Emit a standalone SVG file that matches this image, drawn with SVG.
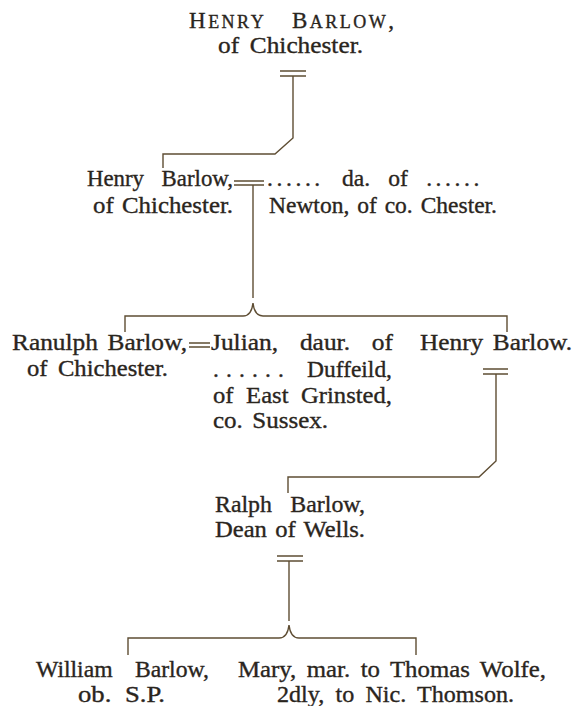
<svg xmlns="http://www.w3.org/2000/svg" width="575" height="706" viewBox="0 0 575 706">
<style>
  text { font-family: "Liberation Serif", "Times New Roman", serif; font-size: 23px; fill: #2a251d; stroke: #2a251d; stroke-width: 0.35; }
  .sc { font-size: 18px; }
  .ln { fill: none; stroke: #5e4d33; stroke-width: 1.4; }
</style>
<rect width="575" height="706" fill="#ffffff"/>
<g id="connectors">
  <path class="ln" d="M280,71 H306 M280,76 H306"/>
  <path class="ln" d="M293,76 V138 L275,154 H163 V168"/>
  <path class="ln" d="M234,181 H264 M234,185 H264"/>
  <path class="ln" d="M253,185 V298"/>
  <path class="ln" d="M125,332 V316 H243 C248,316 252,312 253,303 C254,312 258,316 263,316 H507 V332"/>
  <path class="ln" d="M189,343 H210 M189,347 H210"/>
  <path class="ln" d="M483,369 H508 M483,374 H508"/>
  <path class="ln" d="M496,374 V461 L479,477 H288 V493"/>
  <path class="ln" d="M277,556 H303 M277,561 H303"/>
  <path class="ln" d="M289,561 V621"/>
  <path class="ln" d="M128,655 V638 H279 C284,638 288,634 289,625 C290,634 294,638 299,638 H416 V655"/>
</g>
<g id="henry-barlow-sr">
  <text y="28" letter-spacing="2.5"><tspan x="189">H</tspan><tspan class="sc">ENRY</tspan><tspan x="292">B</tspan><tspan class="sc">ARLOW</tspan>,</text>
  <text x="218" y="53" word-spacing="4" textLength="145" lengthAdjust="spacingAndGlyphs">of Chichester.</text>
</g>
<g id="henry-barlow">
  <text x="87" y="186" word-spacing="12" textLength="146" lengthAdjust="spacingAndGlyphs">Henry Barlow,</text>
  <text x="93" y="213" word-spacing="2" textLength="140" lengthAdjust="spacingAndGlyphs">of Chichester.</text>
</g>
<g id="newton">
  <text x="267" y="186" word-spacing="12" textLength="216" lengthAdjust="spacingAndGlyphs"><tspan letter-spacing="3.5">......</tspan> da. of <tspan letter-spacing="3.5">......</tspan></text>
  <text x="269" y="213" word-spacing="2" textLength="228" lengthAdjust="spacingAndGlyphs">Newton, of co. Chester.</text>
</g>
<g id="ranulph-barlow">
  <text x="12" y="350" word-spacing="3" textLength="175" lengthAdjust="spacingAndGlyphs">Ranulph Barlow,</text>
  <text x="27" y="376" word-spacing="4" textLength="141" lengthAdjust="spacingAndGlyphs">of Chichester.</text>
</g>
<g id="julian">
  <text x="211" y="350" word-spacing="14" textLength="182" lengthAdjust="spacingAndGlyphs">Julian, daur. of</text>
  <text x="213" y="377" word-spacing="10" textLength="179" lengthAdjust="spacingAndGlyphs"><tspan letter-spacing="7">......</tspan> Duffeild,</text>
  <text x="213" y="403" word-spacing="6" textLength="179" lengthAdjust="spacingAndGlyphs">of East Grinsted,</text>
  <text x="213" y="428" word-spacing="3" textLength="115" lengthAdjust="spacingAndGlyphs">co. Sussex.</text>
</g>
<g id="henry-barlow-jr">
  <text x="420" y="350" word-spacing="3" textLength="152" lengthAdjust="spacingAndGlyphs">Henry Barlow.</text>
</g>
<g id="ralph-barlow">
  <text x="215" y="512" word-spacing="12" textLength="150" lengthAdjust="spacingAndGlyphs">Ralph Barlow,</text>
  <text x="215" y="537" word-spacing="2" textLength="150" lengthAdjust="spacingAndGlyphs">Dean of Wells.</text>
</g>
<g id="william-barlow">
  <text x="36" y="677" word-spacing="16" textLength="173" lengthAdjust="spacingAndGlyphs">William Barlow,</text>
  <text x="78" y="702" word-spacing="6" textLength="87" lengthAdjust="spacingAndGlyphs">ob. S.P.</text>
</g>
<g id="mary">
  <text x="238" y="677" word-spacing="4" textLength="308" lengthAdjust="spacingAndGlyphs">Mary, mar. to Thomas Wolfe,</text>
  <text x="277" y="702" word-spacing="5" textLength="237" lengthAdjust="spacingAndGlyphs">2dly, to Nic. Thomson.</text>
</g>
</svg>
